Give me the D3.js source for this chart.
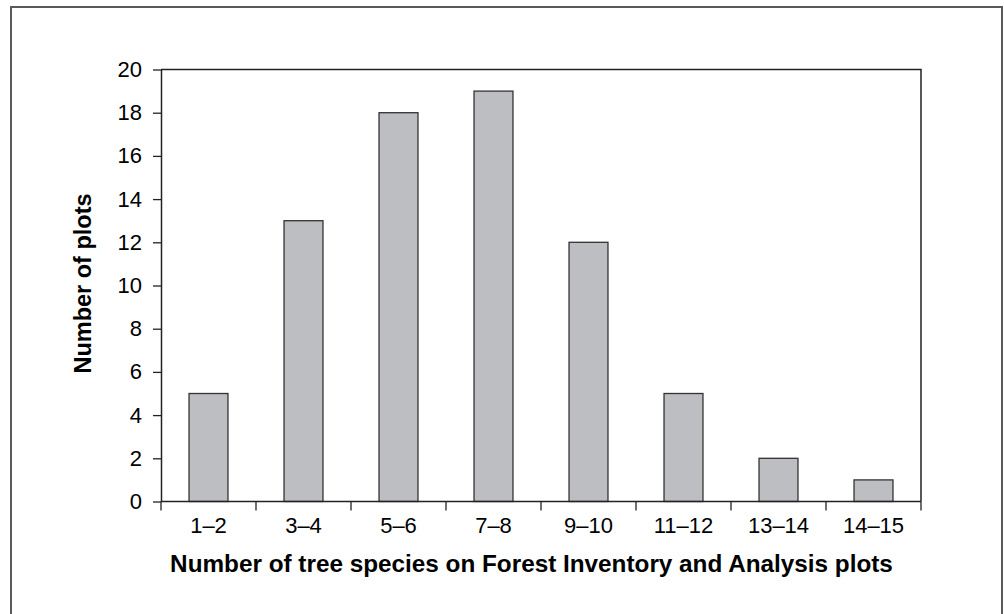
<!DOCTYPE html>
<html>
<head>
<meta charset="utf-8">
<script src="https://cdn.jsdelivr.net/npm/d3@7"></script>
<style>
  body { margin: 0; background: #fff; }
  svg { display: block; font-family: "Liberation Sans", Arial, sans-serif; }
</style>
</head>
<body>
<svg id="chart" width="1004" height="614"></svg>
<script>
// bins of tree species counts and number of plots in each
const categories = ["1\u20132", "3\u20134", "5\u20136", "7\u20138", "9\u201310", "11\u201312", "13\u201314", "14\u201315"];
const plotCounts = [5, 13, 18, 19, 12, 5, 2, 1];
const yTicks = [0, 2, 4, 6, 8, 10, 12, 14, 16, 18, 20];

const width = 1004, height = 614;
const margin = {top: 69.5, right: 83, bottom: 112.5, left: 161};

const svg = d3.select("#chart");

// outer frame (open at the bottom)
svg.append("path")
    .attr("d", `M11,614 L11,7 L1002,7 L1002,614`)
    .attr("fill", "none")
    .attr("stroke", "#5a5a5a")
    .attr("stroke-width", 2);

const x = d3.scaleBand()
    .domain(categories)
    .range([margin.left, width - margin.right])
    .paddingInner(0.59)
    .paddingOuter(0.295);

const xAxisScale = d3.scaleBand()
    .domain(categories)
    .range([margin.left, width - margin.right]);

const y = d3.scaleLinear()
    .domain([0, 20])
    .range([height - margin.bottom, margin.top]);

// bars
svg.append("g")
    .selectAll("rect")
    .data(plotCounts)
    .join("rect")
    .attr("x", (d, i) => x(categories[i]))
    .attr("y", d => y(d))
    .attr("width", x.bandwidth())
    .attr("height", d => y(0) - y(d))
    .attr("fill", "#bdbec2")
    .attr("stroke", "#333")
    .attr("stroke-width", 1.3);

// plot box top and right
svg.append("path")
    .attr("d", `M${margin.left},${margin.top} L${width - margin.right},${margin.top} L${width - margin.right},${y(0)}`)
    .attr("fill", "none")
    .attr("stroke", "#222")
    .attr("stroke-width", 1.5);

// y axis
const yAxis = svg.append("g")
    .attr("transform", `translate(${margin.left},0)`)
    .call(d3.axisLeft(y).tickValues(yTicks).tickSize(8).tickPadding(11).tickSizeOuter(0));
yAxis.select(".domain").attr("stroke", "#222").attr("stroke-width", 1.5);
yAxis.selectAll(".tick line").attr("stroke", "#222").attr("stroke-width", 1.3);
yAxis.selectAll("text")
    .attr("font-size", 22)
    .attr("font-family", "Liberation Sans, Arial, sans-serif")
    .attr("fill", "#000");

// x axis: ticks at band edges, labels centred in bands
const xAxis = svg.append("g")
    .attr("transform", `translate(0,${y(0)})`);
xAxis.append("line")
    .attr("x1", margin.left).attr("x2", width - margin.right)
    .attr("stroke", "#222").attr("stroke-width", 1.5);
const edges = categories.map(c => xAxisScale(c)).concat([width - margin.right]);
xAxis.selectAll(".edge")
    .data(edges)
    .join("line")
    .attr("class", "edge")
    .attr("x1", d => d).attr("x2", d => d)
    .attr("y1", 0).attr("y2", 9)
    .attr("stroke", "#222").attr("stroke-width", 1.3);
xAxis.selectAll(".lbl")
    .data(categories)
    .join("text")
    .attr("class", "lbl")
    .attr("x", d => xAxisScale(d) + xAxisScale.bandwidth() / 2)
    .attr("y", 31.5)
    .attr("text-anchor", "middle")
    .attr("font-size", 22)
    .attr("fill", "#000")
    .text(d => d);

// axis titles
svg.append("text")
    .attr("x", (margin.left + width - margin.right) / 2 - 9.5)
    .attr("y", 572)
    .attr("text-anchor", "middle")
    .attr("font-size", 24.3)
    .attr("font-weight", "bold")
    .text("Number of tree species on Forest Inventory and Analysis plots");

svg.append("text")
    .attr("transform", `translate(91,${(margin.top + y(0)) / 2 - 2}) rotate(-90)`)
    .attr("text-anchor", "middle")
    .attr("font-size", 23.5)
    .attr("font-weight", "bold")
    .text("Number of plots");
</script>
</body>
</html>
